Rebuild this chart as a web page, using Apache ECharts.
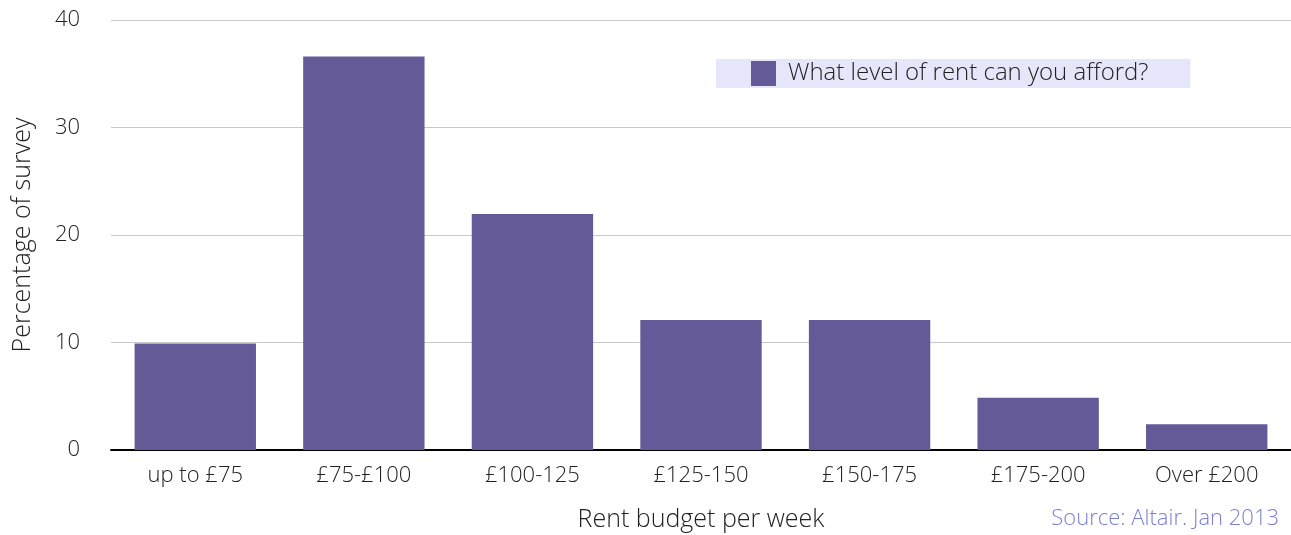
<!DOCTYPE html>
<html>
<head>
<meta charset="utf-8">
<script src="https://cdn.jsdelivr.net/npm/echarts@6/dist/echarts.min.js"></script>
<style>
  html, body { margin: 0; padding: 0; background: #fff; }
  #chart { width: 1291px; height: 535px; }
</style>
</head>
<body>
<div id="chart"></div>
<script>
const categories = ["up to £75", "£75-£100", "£100-125", "£125-150", "£150-175", "£175-200", "Over £200"];
const rentShare = [9.9, 36.6, 21.95, 12.1, 12.1, 4.85, 2.4];
const seriesName = "What level of rent can you afford?";

const font = "'Open Sans', Lato, sans-serif";
const chart = echarts.init(document.getElementById("chart"));

chart.setOption({
  animation: false,
  textStyle: { fontFamily: font },
  grid: { left: 111, right: 0, top: 20, bottom: 85, outerBoundsMode: "none", containLabel: false },
  legend: {
    data: [seriesName],
    left: 716,
    top: 59,
    padding: [2, 42, 2, 35],
    backgroundColor: "#e6e6fa",
    itemWidth: 25,
    itemHeight: 25,
    itemGap: 0,
    icon: "rect",
    textStyle: { fontSize: 24, color: "#222", fontFamily: font, fontWeight: 300, padding: [0, 0, 0, 7] }
  },
  xAxis: {
    type: "category",
    data: categories,
    name: "Rent budget per week",
    nameLocation: "middle",
    nameGap: 57,
    nameTextStyle: { fontSize: 25, color: "#222", fontFamily: font, fontWeight: 300 },
    axisLine: { lineStyle: { color: "#000", width: 2 } },
    axisTick: { show: false },
    axisLabel: { fontSize: 22, color: "#222", margin: 15, fontFamily: font, fontWeight: 300 }
  },
  yAxis: {
    type: "value",
    min: 0,
    max: 40,
    interval: 10,
    name: "Percentage of survey",
    nameLocation: "middle",
    nameGap: 76,
    nameTextStyle: { fontSize: 25, color: "#222", fontFamily: font, fontWeight: 300 },
    axisLine: { show: false },
    axisTick: { show: false },
    axisLabel: { fontSize: 22, color: "#222", margin: 31, fontFamily: font, fontWeight: 300 },
    splitLine: { lineStyle: { color: "#c8c8c8", width: 1 } }
  },
  series: [
    {
      name: seriesName,
      type: "bar",
      data: rentShare,
      barWidth: "72%",
      itemStyle: { color: "#655a98" }
    }
  ],
  graphic: [
    {
      type: "text",
      right: 12,
      top: 508,
      style: {
        text: "Source: Altair. Jan 2013",
        fill: "#7b80d6",
        fontSize: 22,
        fontFamily: font,
        fontWeight: 300
      }
    }
  ]
});
</script>
</body>
</html>
